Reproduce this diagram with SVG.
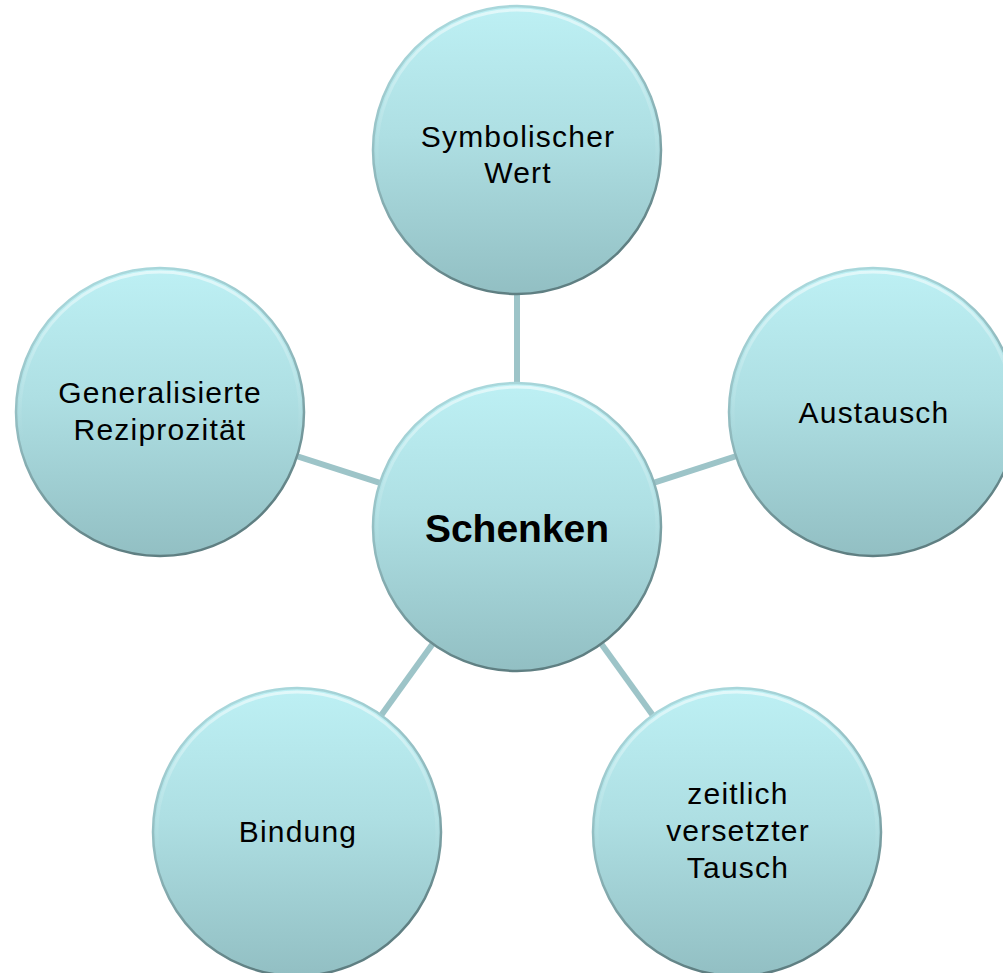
<svg xmlns="http://www.w3.org/2000/svg" width="1003" height="973" viewBox="0 0 1003 973">
  <defs>
    <linearGradient id="fill" x1="0" y1="0" x2="0" y2="1">
      <stop offset="0" stop-color="#bdf0f4"/>
      <stop offset="0.45" stop-color="#aedfe3"/>
      <stop offset="1" stop-color="#92bfc3"/>
    </linearGradient>
    <linearGradient id="rim" x1="0" y1="0" x2="0.3" y2="1">
      <stop offset="0" stop-color="#b0e0e4"/>
      <stop offset="0.55" stop-color="#8fb8bc"/>
      <stop offset="1" stop-color="#5f7f82"/>
    </linearGradient>
    <linearGradient id="hl" x1="0" y1="0" x2="0" y2="1">
      <stop offset="0" stop-color="#ffffff" stop-opacity="0.55"/>
      <stop offset="0.35" stop-color="#ffffff" stop-opacity="0.15"/>
      <stop offset="0.6" stop-color="#ffffff" stop-opacity="0"/>
      <stop offset="1" stop-color="#ffffff" stop-opacity="0"/>
    </linearGradient>
  </defs>
  <style>
    .disc { fill: url(#fill); stroke: url(#rim); stroke-width: 2.5; }
    .bevel { fill: none; stroke: url(#hl); stroke-width: 3; }
    .lbl { font-family: "Liberation Sans", Arial, sans-serif; font-size: 30px; letter-spacing: 1.2px; fill: #000; text-anchor: middle; }
    .main { font-family: "Liberation Sans", Arial, sans-serif; font-size: 39px; font-weight: bold; fill: #000; text-anchor: middle; }
    .conn { stroke: #9dc4c8; stroke-width: 6; fill: none; }
  </style>
  <rect width="1003" height="973" fill="#ffffff"/>
  <g id="connectors">
    <line class="conn" x1="517" y1="527" x2="517" y2="150"/>
    <line class="conn" x1="517" y1="527" x2="160" y2="412"/>
    <line class="conn" x1="517" y1="527" x2="873" y2="412"/>
    <line class="conn" x1="517" y1="527" x2="297" y2="832"/>
    <line class="conn" x1="517" y1="527" x2="737" y2="832"/>
  </g>
  <g id="node-symbolischer-wert">
    <circle class="disc" cx="517" cy="150" r="144"/>
    <circle class="bevel" cx="517" cy="150" r="140"/>
    <text class="lbl" x="518" y="147">Symbolischer</text>
    <text class="lbl" x="518" y="183">Wert</text>
  </g>
  <g id="node-generalisierte-reziprozitaet">
    <circle class="disc" cx="160" cy="412" r="144"/>
    <circle class="bevel" cx="160" cy="412" r="140"/>
    <text class="lbl" x="160" y="403">Generalisierte</text>
    <text class="lbl" x="160" y="440">Reziprozität</text>
  </g>
  <g id="node-austausch">
    <circle class="disc" cx="873" cy="412" r="144"/>
    <circle class="bevel" cx="873" cy="412" r="140"/>
    <text class="lbl" x="874" y="423">Austausch</text>
  </g>
  <g id="node-bindung">
    <circle class="disc" cx="297" cy="832" r="144"/>
    <circle class="bevel" cx="297" cy="832" r="140"/>
    <text class="lbl" x="298" y="842">Bindung</text>
  </g>
  <g id="node-zeitlich-versetzter-tausch">
    <circle class="disc" cx="737" cy="832" r="144"/>
    <circle class="bevel" cx="737" cy="832" r="140"/>
    <text class="lbl" x="738" y="804">zeitlich</text>
    <text class="lbl" x="738" y="841">versetzter</text>
    <text class="lbl" x="738" y="878">Tausch</text>
  </g>
  <g id="node-schenken">
    <circle class="disc" cx="517" cy="527" r="144"/>
    <circle class="bevel" cx="517" cy="527" r="140"/>
    <text class="main" x="517" y="542">Schenken</text>
  </g>
</svg>
